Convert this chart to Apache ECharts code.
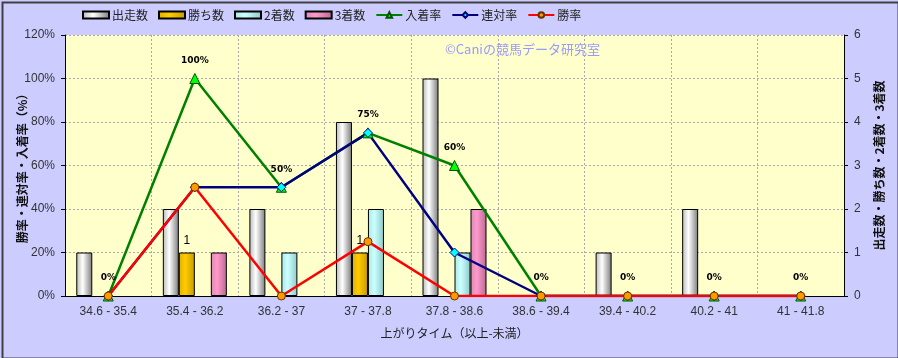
<!DOCTYPE html>
<html>
<head>
<meta charset="utf-8">
<script src="https://cdn.jsdelivr.net/npm/echarts@6/dist/echarts.min.js"></script>
<style>
html,body{margin:0;padding:0;background:#ccccff;}
#chart{width:898px;height:358px;}
</style>
</head>
<body>
<div id="chart"></div>
<script>
// ---- data ----
const categories = ['34.6 - 35.4','35.4 - 36.2','36.2 - 37','37 - 37.8','37.8 - 38.6','38.6 - 39.4','39.4 - 40.2','40.2 - 41','41 - 41.8'];
const runs   = [1, 2, 2, 4, 5, 0, 1, 2, 0];   // 出走数
const wins   = [0, 1, 0, 1, 0, 0, 0, 0, 0];   // 勝ち数
const second = [0, 0, 1, 2, 1, 0, 0, 0, 0];   // 2着数
const third  = [0, 1, 0, 0, 2, 0, 0, 0, 0];   // 3着数
const placeRate = [0, 100, 50, 75, 60, 0, 0, 0, 0]; // 入着率
const rentaiRate = [0, 50, 50, 75, 20, 0, 0, 0, 0]; // 連対率
const winRate = [0, 50, 0, 25, 0, 0, 0, 0, 0];      // 勝率
const leftTicks = [0, 20, 40, 60, 80, 100, 120];
const rightTicks = [0, 1, 2, 3, 4, 5, 6];

const FONT = '"Noto Sans CJK JP", "Noto Sans", sans-serif';
const NUMFONT = '"Liberation Sans", Arial, sans-serif';

function grad(edgeL, mid, edgeR) {
  return new echarts.graphic.LinearGradient(0, 0, 1, 0, [
    {offset: 0, color: edgeL},
    {offset: 0.4, color: mid},
    {offset: 1, color: edgeR}
  ]);
}
const nz = arr => arr.map(v => v === 0 ? null : v);

function barSeries(name, data, color, label) {
  return {
    name: name, type: 'bar', yAxisIndex: 1, data: nz(data),
    barWidth: 16, barGap: '0%',
    itemStyle: {color: color, borderColor: '#000', borderWidth: 1},
    label: label ? {
      show: true, position: 'top', distance: 6, color: '#000',
      fontSize: 12, fontFamily: NUMFONT,
      formatter: p => (p.value ? p.value : '')
    } : {show: false},
    z: 2
  };
}
function lineSeries(name, data, color, symbol, symColor, symBorder, size, label) {
  return {
    name: name, type: 'line', yAxisIndex: 0, data: data,
    symbol: symbol, symbolSize: size,
    lineStyle: {color: color, width: 2.5},
    itemStyle: {color: symColor, borderColor: symBorder, borderWidth: 1},
    label: label ? {
      show: true, position: 'top', distance: 8, color: '#000',
      fontSize: 9, fontWeight: 'bold', fontFamily: '"DejaVu Sans", sans-serif',
      formatter: '{c}%'
    } : {show: false},
    z: 5
  };
}

const chart = echarts.init(document.getElementById('chart'), null, {renderer: 'canvas'});
chart.setOption({
  animation: false,
  backgroundColor: '#ccccff',
  textStyle: {fontFamily: FONT},
  legend: {
    left: 82, top: 9, padding: 0, itemWidth: 26, itemHeight: 7, itemGap: 10,
    textStyle: {fontSize: 12, color: '#222', fontFamily: FONT, padding: [0, 0, 0, -2]},
    data: [
      {name: '出走数', icon: 'rect'},
      {name: '勝ち数', icon: 'rect'},
      {name: '2着数', icon: 'rect'},
      {name: '3着数', icon: 'rect'},
      '入着率', '連対率', '勝率'
    ]
  },
  grid: {left: 65, right: 54, top: 35, bottom: 62, show: true, backgroundColor: '#ffffcc', borderWidth: 0,
         containLabel: false, outerBoundsMode: 'none'},
  xAxis: {
    type: 'category', data: categories, boundaryGap: true,
    name: '上がりタイム（以上-未満）', nameLocation: 'middle', nameGap: 31, nameMoveOverlap: false,
    nameTextStyle: {fontSize: 12, color: '#222', fontFamily: FONT},
    axisLine: {lineStyle: {color: '#000', width: 1}},
    axisTick: {show: false},
    axisLabel: {color: '#333', fontSize: 12, margin: 10, fontFamily: NUMFONT},
    splitLine: {show: true, lineStyle: {color: '#aaa', type: [2, 2], width: 1}}
  },
  yAxis: [
    {
      type: 'value', min: leftTicks[0], max: leftTicks[leftTicks.length - 1], interval: 20,
      name: '勝率・連対率・入着率（%）', nameLocation: 'middle', nameGap: 37, nameRotate: 90,
      nameMoveOverlap: false,
      nameTextStyle: {fontSize: 12, color: '#111', fontWeight: 'bold', fontFamily: FONT},
      axisLine: {show: true, lineStyle: {color: '#000'}},
      axisTick: {show: true, length: 4, lineStyle: {color: '#000'}},
      axisLabel: {color: '#333', fontSize: 12, margin: 10, formatter: '{value}%', fontFamily: NUMFONT},
      splitLine: {show: true, lineStyle: {color: '#aaa', type: [2, 2], width: 1}}
    },
    {
      type: 'value', min: rightTicks[0], max: rightTicks[rightTicks.length - 1], interval: 1,
      position: 'right',
      name: '出走数・勝ち数・2着数・3着数', nameLocation: 'middle', nameGap: 29, nameRotate: 90,
      nameMoveOverlap: false,
      nameTextStyle: {fontSize: 12, color: '#111', fontWeight: 'bold', fontFamily: FONT},
      axisLine: {show: true, lineStyle: {color: '#000'}},
      axisTick: {show: true, length: 4, lineStyle: {color: '#000'}},
      axisLabel: {color: '#333', fontSize: 12, margin: 10, fontFamily: NUMFONT},
      splitLine: {show: false}
    }
  ],
  graphic: [
    {type: 'text', left: 445, top: 43, z: 1, silent: true,
     style: {text: '©Caniの競馬データ研究室', fill: '#9999ff', font: '13px "Noto Sans CJK JP", sans-serif'}},
    {type: 'rect', left: 0, top: 0, z: 100, silent: true,
     shape: {x: 0, y: 0, width: 896, height: 356},
     style: {fill: 'none', stroke: '#404040', lineWidth: 2}, position: [1, 1]}
  ],
  series: [
    barSeries('出走数', runs, grad('#b8b8b8', '#ffffff', '#7a7a7a'), false),
    barSeries('勝ち数', wins, grad('#e0b000', '#ffcc00', '#c89a00'), true),
    barSeries('2着数', second, grad('#a8e8e8', '#ccffff', '#8cc8c8'), false),
    barSeries('3着数', third, grad('#e088b8', '#ff99cc', '#b86890'), false),
    lineSeries('入着率', placeRate, '#008000', 'triangle', '#00ff00', '#005500', 10, true),
    lineSeries('連対率', rentaiRate, '#000080', 'diamond', '#00ffff', '#000080', 9, false),
    lineSeries('勝率', winRate, '#ff0000', 'circle', '#ff9900', '#663300', 8, false)
  ]
});
</script>
</body>
</html>
